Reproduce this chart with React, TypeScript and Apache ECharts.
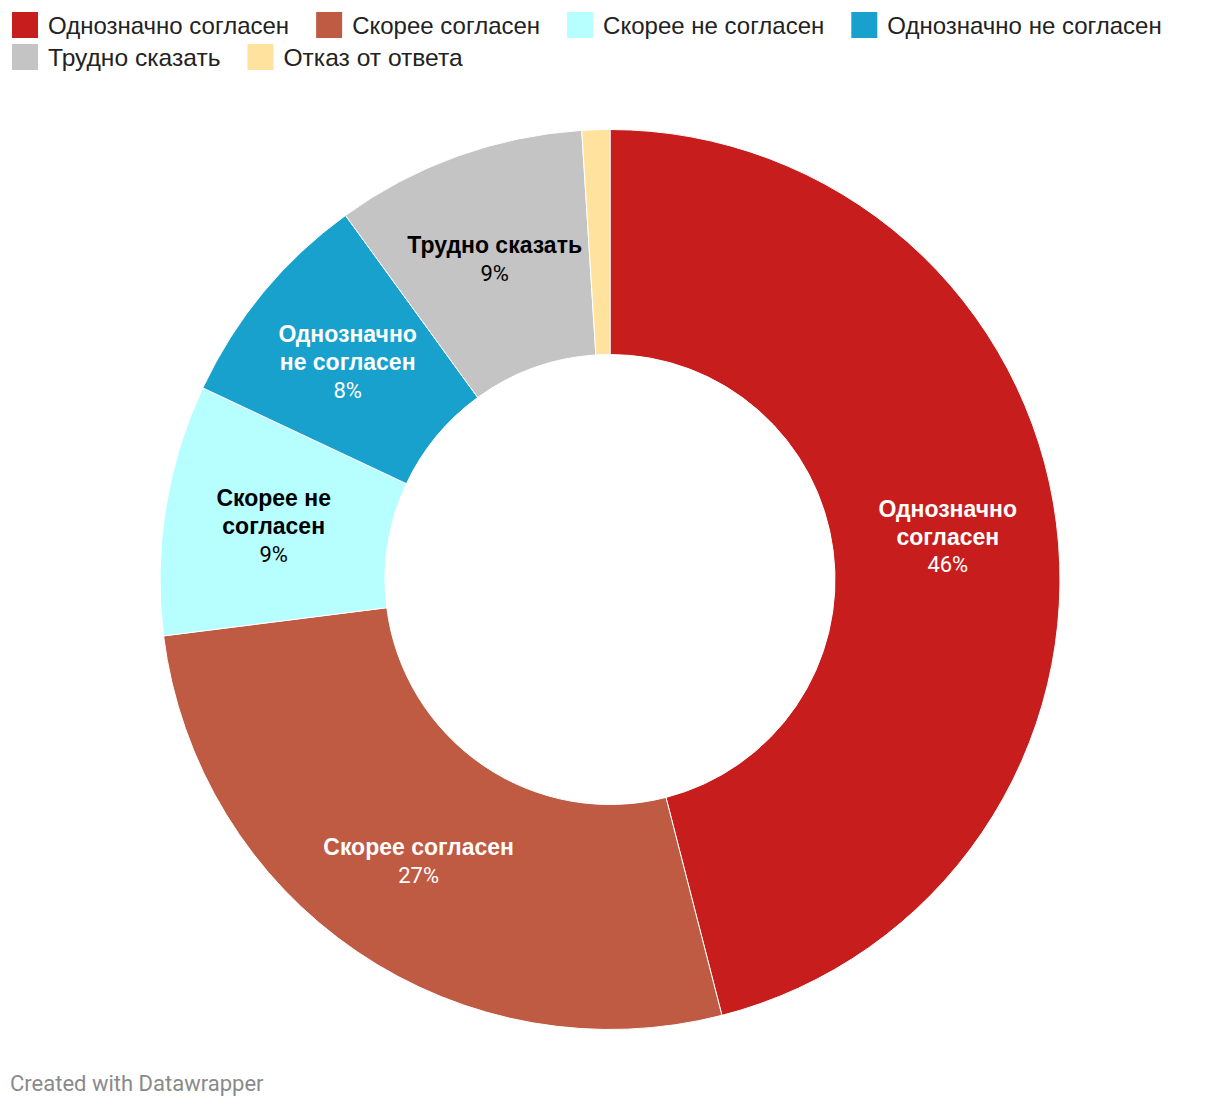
import React, { useEffect, useRef } from "react";
import * as echarts from "echarts";

const categories = [
  "Однозначно согласен",
  "Скорее согласен",
  "Скорее не согласен",
  "Однозначно не согласен",
  "Трудно сказать",
  "Отказ от ответа",
];
const values = [46, 27, 9, 8, 9, 1];
const colors = ["#c71e1d", "#bf5a43", "#b6feff", "#18a1cd", "#c4c4c4", "#ffe29d"];
const labelNames = [
  "Однозначно\nсогласен",
  "Скорее согласен",
  "Скорее не\nсогласен",
  "Однозначно\nне согласен",
  "Трудно сказать",
  "",
];
const labelDark = [false, false, true, false, true, true];
const showLabel = [true, true, true, true, true, false];
const legendRow1 = categories.slice(0, 4);
const legendRow2 = categories.slice(4);
const footerText = "Created with Datawrapper";

const SANS = "'Liberation Sans', Arial, Helvetica, sans-serif";

export default function App() {
  const ref = useRef<HTMLDivElement>(null);
  useEffect(() => {
    if (!ref.current) return;
    const chart = echarts.init(ref.current, null, { renderer: "svg" });
    const data = categories.map((name, i) => {
      const c = labelDark[i] ? "#000000" : "#ffffff";
      const nameLines = labelNames[i]
        .split("\n")
        .map((l) => `{b|${l}}`)
        .join("\n");
      return {
        name,
        value: values[i],
        itemStyle: { color: colors[i] },
        label: {
          show: showLabel[i],
          formatter: `${nameLines}\n{p|${values[i]}%}`,
          rich: {
            b: {
              fontFamily: SANS,
              fontWeight: "bold",
              fontSize: 23,
              lineHeight: 28,
              color: c,
            },
            p: {
              fontFamily: "Roboto, sans-serif",
              fontSize: 22,
              lineHeight: 28,
              color: c,
            },
          },
        },
      };
    });
    const legendBase = {
      left: 10,
      itemWidth: 28,
      itemHeight: 28,
      itemGap: 25,
      icon: "rect",
      selectedMode: false,
      orient: "horizontal",
      padding: 0,
    };
    const legendText = (size: number) => ({
      fontFamily: SANS,
      fontSize: size,
      color: "#222222",
      padding: [0, 0, 0, 4],
    });
    chart.setOption({
      animation: false,
      legend: [
        { ...legendBase, top: 10, data: legendRow1, textStyle: legendText(24) },
        { ...legendBase, top: 42, data: legendRow2, textStyle: legendText(24.6) },
      ],
      graphic: [
        {
          type: "text",
          left: 10,
          top: 1072,
          style: {
            text: footerText,
            fill: "#8a8a8a",
            font: "22px Roboto, sans-serif",
          },
        },
      ],
      series: [
        {
          type: "pie",
          center: [610, 579.5],
          radius: [225, 450],
          startAngle: 90,
          clockwise: true,
          avoidLabelOverlap: false,
          itemStyle: { borderColor: "#ffffff", borderWidth: 1 },
          label: { position: "inside", align: "center" },
          labelLine: { show: false },
          emphasis: { disabled: true },
          data,
        },
      ],
    });
    return () => chart.dispose();
  }, []);
  return (
    <div
      ref={ref}
      style={{ position: "absolute", left: 0, top: 0, width: 1220, height: 1106, background: "#fff" }}
    />
  );
}
